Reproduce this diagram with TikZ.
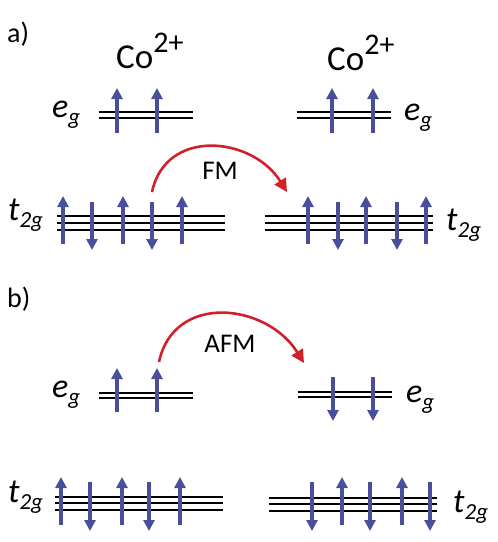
\documentclass[tikz,border=0pt]{standalone}
\usepackage{fontspec}
\setmainfont{Carlito}
\usetikzlibrary{
    arrows.meta,
    positioning
}
\definecolor{spinblue}{HTML}{4A4F9C}
\definecolor{hopred}{HTML}{D0202A}
\newcommand{\orblabel}[2]{#1\raisebox{-7pt}{\fontsize{23}{24}\selectfont #2}}
\newcommand{\ionlabel}{Co\raisebox{16pt}{\fontsize{30}{32}\selectfont 2+}}

\begin{document}
\begin{tikzpicture}[
        x=1pt, y=-1pt,
        every node/.style={inner sep=0pt},
        level/.style={line width=1.3pt, draw=black},
        spin/.style={line width=3.2pt, draw=spinblue,
            -{Triangle[length=11pt,width=11pt]}},
        hop/.style={line width=2.6pt, draw=hopred,
            -{Triangle[length=13pt,width=13pt]}},
        orbital/.style={font=\fontsize{34}{36}\selectfont\itshape, anchor=base west},
        ion/.style={font=\fontsize{35}{38}\selectfont, anchor=base west},
        panel/.style={font=\fontsize{28}{30}\selectfont, anchor=base west},
        coupling/.style={font=\fontsize{27}{30}\selectfont}
    ]
        \useasboundingbox (0,0) rectangle (498,542);

        % panel a
        \node[panel] (pa) at (7,42) {a)};
        \node[ion] (ionL) at (116,68) {\ionlabel};
        \node[ion] (ionR) at (327,70) {\ionlabel};
        \node[orbital] (egLa) at (52,117) {\orblabel{e}{g}};
        \node[orbital] (egRa) at (404,120) {\orblabel{e}{g}};
        \node[orbital] (tLa) at (8,220) {\orblabel{t}{2g}};
        \node[orbital] (tRa) at (446,230) {\orblabel{t}{2g}};

        \foreach \y in {112,118} \draw[level] (99,\y) -- (193,\y);
        \foreach \y in {112,118} \draw[level] (297,\y) -- (391,\y);
        \foreach \y in {216,223,230} \draw[level] (57,\y) -- (225,\y);
        \foreach \y in {216,223,230} \draw[level] (265,\y) -- (433,\y);

        \foreach \x in {117,157,332,373} \draw[spin] (\x,133) -- (\x,88);
        \foreach \x in {63,123,182,308,366,426} \draw[spin] (\x,244) -- (\x,196);
        \foreach \x in {92,152,338,397} \draw[spin] (\x,202) -- (\x,250);

        \coordinate (fmfrom) at (152,192);
        \coordinate (fmto) at (287,192);
        \draw[hop] (fmfrom) to[out=78,in=122,looseness=1.25] (fmto);
        \node[coupling] (fm) at (220,171) {FM};

        % panel b
        \node[panel] (pb) at (7,307) {b)};
        \node[orbital] (egLb) at (52,397) {\orblabel{e}{g}};
        \node[orbital] (egRb) at (406,402) {\orblabel{e}{g}};
        \node[orbital] (tLb) at (8,502) {\orblabel{t}{2g}};
        \node[orbital] (tRb) at (453,512) {\orblabel{t}{2g}};

        \foreach \y in {393,398} \draw[level] (99,\y) -- (193,\y);
        \foreach \y in {392,397} \draw[level] (298,\y) -- (392,\y);
        \foreach \y in {497,503,510} \draw[level] (55,\y) -- (223,\y);
        \foreach \y in {498,504,511} \draw[level] (269,\y) -- (437,\y);

        \foreach \x in {117,157} \draw[spin] (\x,412) -- (\x,368);
        \foreach \x in {333,373} \draw[spin] (\x,377) -- (\x,421);
        \foreach \x in {61,122,180,342,402} \draw[spin] (\x,525) -- (\x,477);
        \foreach \x in {90,149,312,370,430} \draw[spin] (\x,482) -- (\x,531);

        \coordinate (afmfrom) at (159,362);
        \coordinate (afmto) at (304,363);
        \draw[hop] (afmfrom) to[out=78,in=122,looseness=1.25] (afmto);
        \node[coupling] (afm) at (230,344) {AFM};
    \end{tikzpicture}
\end{document}
